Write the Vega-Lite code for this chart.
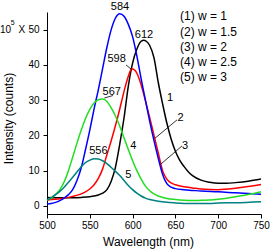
{
  "$schema": "https://vega.github.io/schema/vega-lite/v6.json",
  "width": 214,
  "height": 202,
  "autosize": {"type": "none"},
  "padding": {"left": 47, "top": 12, "right": 9, "bottom": 35},
  "config": {
    "view": {"stroke": null},
    "font": "Liberation Sans",
    "axis": {
      "grid": false,
      "domainColor": "#000000",
      "tickColor": "#000000",
      "labelColor": "#000000",
      "titleColor": "#000000",
      "tickSize": 4,
      "labelFontSize": 10,
      "titleFontSize": 12,
      "titleFontWeight": "normal",
      "labelFlush": false
    }
  },
  "layer": [
    {
      "data": {
        "values": [
          {"s": "1", "x": 500, "y": 2.4}, {"s": "1", "x": 510, "y": 2.3}, {"s": "1", "x": 520, "y": 2.3}, {"s": "1", "x": 530, "y": 2.3}, {"s": "1", "x": 540, "y": 2.4}, {"s": "1", "x": 550, "y": 2.6}, {"s": "1", "x": 555, "y": 2.8}, {"s": "1", "x": 560, "y": 3.1}, {"s": "1", "x": 565, "y": 3.6}, {"s": "1", "x": 570, "y": 4.6}, {"s": "1", "x": 575, "y": 7}, {"s": "1", "x": 580, "y": 11}, {"s": "1", "x": 585, "y": 17.5}, {"s": "1", "x": 590, "y": 25}, {"s": "1", "x": 595, "y": 34}, {"s": "1", "x": 600, "y": 40.5}, {"s": "1", "x": 605, "y": 44.5}, {"s": "1", "x": 610, "y": 46.7}, {"s": "1", "x": 613, "y": 47}, {"s": "1", "x": 616, "y": 46.7}, {"s": "1", "x": 620, "y": 45.5}, {"s": "1", "x": 625, "y": 42}, {"s": "1", "x": 630, "y": 35}, {"s": "1", "x": 635, "y": 29}, {"s": "1", "x": 640, "y": 23.5}, {"s": "1", "x": 645, "y": 19}, {"s": "1", "x": 650, "y": 15.5}, {"s": "1", "x": 655, "y": 13}, {"s": "1", "x": 660, "y": 11.2}, {"s": "1", "x": 665, "y": 9.7}, {"s": "1", "x": 670, "y": 8.6}, {"s": "1", "x": 680, "y": 7.3}, {"s": "1", "x": 690, "y": 6.7}, {"s": "1", "x": 700, "y": 6.4}, {"s": "1", "x": 710, "y": 6.4}, {"s": "1", "x": 720, "y": 6.6}, {"s": "1", "x": 735, "y": 7.0}, {"s": "1", "x": 750, "y": 7.6},
          {"s": "2", "x": 500, "y": 1.7}, {"s": "2", "x": 510, "y": 1.9}, {"s": "2", "x": 520, "y": 2.2}, {"s": "2", "x": 530, "y": 2.7}, {"s": "2", "x": 540, "y": 3.4}, {"s": "2", "x": 545, "y": 4}, {"s": "2", "x": 550, "y": 4.8}, {"s": "2", "x": 555, "y": 6}, {"s": "2", "x": 560, "y": 7.8}, {"s": "2", "x": 565, "y": 10.5}, {"s": "2", "x": 570, "y": 14.5}, {"s": "2", "x": 575, "y": 18.5}, {"s": "2", "x": 580, "y": 22.8}, {"s": "2", "x": 585, "y": 27.5}, {"s": "2", "x": 590, "y": 32.5}, {"s": "2", "x": 595, "y": 36.8}, {"s": "2", "x": 599, "y": 38.9}, {"s": "2", "x": 603, "y": 38.4}, {"s": "2", "x": 607, "y": 36.5}, {"s": "2", "x": 610, "y": 34.3}, {"s": "2", "x": 615, "y": 29.8}, {"s": "2", "x": 620, "y": 25}, {"s": "2", "x": 625, "y": 20}, {"s": "2", "x": 630, "y": 15}, {"s": "2", "x": 635, "y": 10}, {"s": "2", "x": 640, "y": 7.6}, {"s": "2", "x": 645, "y": 6.5}, {"s": "2", "x": 650, "y": 6.0}, {"s": "2", "x": 660, "y": 5.4}, {"s": "2", "x": 670, "y": 5.1}, {"s": "2", "x": 680, "y": 4.8}, {"s": "2", "x": 700, "y": 4.6}, {"s": "2", "x": 720, "y": 5.0}, {"s": "2", "x": 735, "y": 5.5}, {"s": "2", "x": 750, "y": 6.1},
          {"s": "3", "x": 500, "y": 0.5}, {"s": "3", "x": 505, "y": 0.7}, {"s": "3", "x": 510, "y": 1.0}, {"s": "3", "x": 515, "y": 1.5}, {"s": "3", "x": 520, "y": 2.2}, {"s": "3", "x": 525, "y": 3.2}, {"s": "3", "x": 530, "y": 4.6}, {"s": "3", "x": 535, "y": 7.2}, {"s": "3", "x": 540, "y": 10.8}, {"s": "3", "x": 545, "y": 16}, {"s": "3", "x": 550, "y": 21.5}, {"s": "3", "x": 555, "y": 27.5}, {"s": "3", "x": 560, "y": 33}, {"s": "3", "x": 565, "y": 39}, {"s": "3", "x": 570, "y": 45}, {"s": "3", "x": 575, "y": 50}, {"s": "3", "x": 580, "y": 53.3}, {"s": "3", "x": 585, "y": 54.5}, {"s": "3", "x": 590, "y": 53.8}, {"s": "3", "x": 595, "y": 51.5}, {"s": "3", "x": 600, "y": 48}, {"s": "3", "x": 605, "y": 42.5}, {"s": "3", "x": 610, "y": 36}, {"s": "3", "x": 615, "y": 30}, {"s": "3", "x": 620, "y": 24}, {"s": "3", "x": 625, "y": 18.5}, {"s": "3", "x": 630, "y": 13.5}, {"s": "3", "x": 635, "y": 9}, {"s": "3", "x": 640, "y": 6.3}, {"s": "3", "x": 645, "y": 5.3}, {"s": "3", "x": 650, "y": 4.9}, {"s": "3", "x": 660, "y": 4.6}, {"s": "3", "x": 670, "y": 4.4}, {"s": "3", "x": 680, "y": 4.2}, {"s": "3", "x": 700, "y": 4.0}, {"s": "3", "x": 720, "y": 3.7}, {"s": "3", "x": 750, "y": 3.3},
          {"s": "4", "x": 500, "y": 1.6}, {"s": "4", "x": 505, "y": 2.2}, {"s": "4", "x": 510, "y": 3.2}, {"s": "4", "x": 515, "y": 4.6}, {"s": "4", "x": 520, "y": 6.8}, {"s": "4", "x": 525, "y": 10}, {"s": "4", "x": 530, "y": 13.8}, {"s": "4", "x": 535, "y": 17.8}, {"s": "4", "x": 540, "y": 21.5}, {"s": "4", "x": 545, "y": 24.8}, {"s": "4", "x": 550, "y": 27.4}, {"s": "4", "x": 555, "y": 29.2}, {"s": "4", "x": 560, "y": 30.1}, {"s": "4", "x": 565, "y": 30.3}, {"s": "4", "x": 570, "y": 29.6}, {"s": "4", "x": 575, "y": 27.8}, {"s": "4", "x": 580, "y": 25.5}, {"s": "4", "x": 585, "y": 22.6}, {"s": "4", "x": 590, "y": 19.3}, {"s": "4", "x": 595, "y": 16}, {"s": "4", "x": 600, "y": 12.8}, {"s": "4", "x": 605, "y": 10}, {"s": "4", "x": 610, "y": 7.6}, {"s": "4", "x": 615, "y": 5.6}, {"s": "4", "x": 620, "y": 4.3}, {"s": "4", "x": 625, "y": 3.4}, {"s": "4", "x": 630, "y": 2.8}, {"s": "4", "x": 640, "y": 2.1}, {"s": "4", "x": 650, "y": 1.8}, {"s": "4", "x": 660, "y": 1.6}, {"s": "4", "x": 670, "y": 1.5}, {"s": "4", "x": 680, "y": 1.6}, {"s": "4", "x": 690, "y": 1.7}, {"s": "4", "x": 700, "y": 1.9}, {"s": "4", "x": 710, "y": 2.2}, {"s": "4", "x": 720, "y": 2.6}, {"s": "4", "x": 735, "y": 3.2}, {"s": "4", "x": 750, "y": 4.0},
          {"s": "5", "x": 500, "y": 1.6}, {"s": "5", "x": 505, "y": 2.4}, {"s": "5", "x": 510, "y": 3.2}, {"s": "5", "x": 515, "y": 4.1}, {"s": "5", "x": 520, "y": 5.3}, {"s": "5", "x": 525, "y": 6.7}, {"s": "5", "x": 530, "y": 8.1}, {"s": "5", "x": 535, "y": 9.6}, {"s": "5", "x": 540, "y": 11.1}, {"s": "5", "x": 545, "y": 12.3}, {"s": "5", "x": 550, "y": 13.0}, {"s": "5", "x": 556, "y": 13.4}, {"s": "5", "x": 560, "y": 13.3}, {"s": "5", "x": 565, "y": 12.8}, {"s": "5", "x": 570, "y": 12.0}, {"s": "5", "x": 575, "y": 10.9}, {"s": "5", "x": 580, "y": 9.8}, {"s": "5", "x": 585, "y": 8.6}, {"s": "5", "x": 590, "y": 7.2}, {"s": "5", "x": 595, "y": 5.8}, {"s": "5", "x": 600, "y": 4.6}, {"s": "5", "x": 605, "y": 3.6}, {"s": "5", "x": 610, "y": 2.8}, {"s": "5", "x": 615, "y": 2.2}, {"s": "5", "x": 620, "y": 1.8}, {"s": "5", "x": 630, "y": 1.3}, {"s": "5", "x": 640, "y": 1.0}, {"s": "5", "x": 650, "y": 0.85}, {"s": "5", "x": 670, "y": 0.7}, {"s": "5", "x": 690, "y": 0.7}, {"s": "5", "x": 700, "y": 0.8}, {"s": "5", "x": 720, "y": 0.9}, {"s": "5", "x": 750, "y": 1.2}
        ]
      },
      "mark": {"type": "line", "interpolate": "monotone", "strokeWidth": 1.5},
      "encoding": {
        "x": {
          "field": "x", "type": "quantitative",
          "scale": {"domain": [500, 750], "nice": false, "zero": false},
          "axis": {
            "title": "Wavelength (nm)",
            "values": [500, 525, 550, 575, 600, 625, 650, 675, 700, 725, 750],
            "labelExpr": "datum.value % 50 == 0 ? datum.label : ''",
            "labelPadding": 2,
            "titleX": 101,
            "titleY": 22
          }
        },
        "y": {
          "field": "y", "type": "quantitative",
          "scale": {"domain": [-2.3, 55], "nice": false, "zero": false},
          "axis": {
            "title": "Intensity (counts)",
            "values": [0, 5, 10, 15, 20, 25, 30, 35, 40, 45, 50],
            "labelExpr": "datum.value % 10 == 0 ? datum.label : ''",
            "labelPadding": 4,
            "titleX": -32,
            "titleY": 106
          }
        },
        "color": {
          "field": "s", "type": "nominal",
          "scale": {"domain": ["1", "2", "3", "4", "5"], "range": ["#000000", "#ff0000", "#0000ff", "#22dd22", "#008080"]},
          "legend": null
        }
      }
    },
    {
      "data": {
        "values": [
          {"x": 592.3, "y": 40, "x2": 599.3, "y2": 38.6},
          {"x": 577, "y": 31.3, "x2": 567, "y2": 30.6},
          {"x": 651.9, "y": 24.4, "x2": 626.2, "y2": 19.2},
          {"x": 657.7, "y": 17, "x2": 633.2, "y2": 11.9}
        ]
      },
      "mark": {"type": "rule", "color": "#000000", "strokeWidth": 0.8},
      "encoding": {
        "x": {"field": "x", "type": "quantitative"},
        "y": {"field": "y", "type": "quantitative"},
        "x2": {"field": "x2"},
        "y2": {"field": "y2"}
      }
    },
    {
      "data": {
        "values": [
          {"t": "584", "x": 585.3, "y": 56.5},
          {"t": "612", "x": 613.3, "y": 48.6},
          {"t": "598", "x": 581.4, "y": 41.7},
          {"t": "567", "x": 575.6, "y": 32.2},
          {"t": "556", "x": 560, "y": 15.7},
          {"t": "1", "x": 643.7, "y": 30.7},
          {"t": "2", "x": 656, "y": 24.8},
          {"t": "3", "x": 661.2, "y": 17.1},
          {"t": "4", "x": 600.8, "y": 17.1},
          {"t": "5", "x": 595, "y": 8.9}
        ]
      },
      "mark": {"type": "text", "fontSize": 11, "color": "#000000", "baseline": "middle", "align": "center"},
      "encoding": {
        "x": {"field": "x", "type": "quantitative"},
        "y": {"field": "y", "type": "quantitative"},
        "text": {"field": "t"}
      }
    },
    {
      "data": {
        "values": [
          {"t": "10", "x": 451.5, "y": 49.8, "size": 10},
          {"t": "5", "x": 459.8, "y": 51.8, "size": 7},
          {"t": "X", "x": 470.6, "y": 49.8, "size": 10}
        ]
      },
      "mark": {"type": "text", "color": "#000000", "baseline": "middle", "align": "center"},
      "encoding": {
        "x": {"field": "x", "type": "quantitative"},
        "y": {"field": "y", "type": "quantitative"},
        "text": {"field": "t"},
        "size": {"field": "size", "type": "quantitative", "scale": null, "legend": null}
      }
    },
    {
      "data": {
        "values": [
          {"t": "(1) w = 1", "x": 655.4, "y": 53.8},
          {"t": "(2) w = 1.5", "x": 655.4, "y": 49.3},
          {"t": "(3) w = 2", "x": 655.4, "y": 45.1},
          {"t": "(4) w = 2.5", "x": 655.4, "y": 40.8},
          {"t": "(5) w = 3", "x": 655.4, "y": 36.6}
        ]
      },
      "mark": {"type": "text", "fontSize": 12, "color": "#000000", "baseline": "middle", "align": "left"},
      "encoding": {
        "x": {"field": "x", "type": "quantitative"},
        "y": {"field": "y", "type": "quantitative"},
        "text": {"field": "t"}
      }
    }
  ]
}
